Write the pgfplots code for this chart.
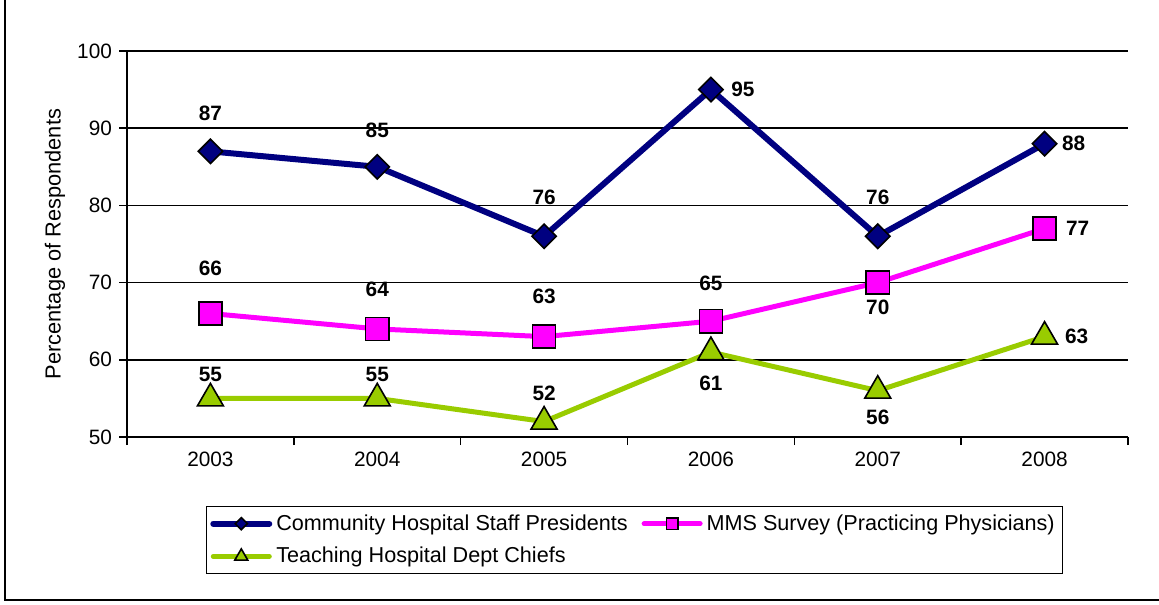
\documentclass[border=0pt]{standalone}
\usepackage{fontspec}
\setmainfont{Liberation Sans}
\usepackage{pgfplots}
\pgfplotsset{compat=1.18}
\usepackage{pgfplotstable}

\definecolor{navyc}{RGB}{0,0,128}
\definecolor{magc}{RGB}{255,0,255}
\definecolor{limec}{RGB}{153,204,0}

\pgfplotstableread{
x y dx dy
0 87 0 19.2
1 85 0 18.4
2 76 0 19.6
3 95 16 0
4 76 0 19.6
5 88 14.5 0
}\community
\pgfplotstableread{
x y dx dy
0 66 0 22.7
1 64 0 20
2 63 0 20.3
3 65 0 19.1
4 70 0 -12.2
5 77 16.5 0
}\mms
\pgfplotstableread{
x y dx dy
0 55 0 12.2
1 55 0 12.2
2 52 0 14.3
3 61 0 -15.4
4 56 0 -13.2
5 63 16 0
}\teaching

\pgfplotsset{/pgf/number format/assume math mode=true}

\begin{document}
\begin{tikzpicture}
\useasboundingbox (0,0) rectangle (579.5pt,302pt);
\draw[line width=1pt] (2.5pt,302pt) -- (2.5pt,2pt) -- (579.5pt,2pt);
\begin{axis}[
  at={(63.5pt,83.5pt)}, anchor=south west,
  scale only axis, width=500.5pt, height=193pt,
  xmin=-0.5, xmax=5.5, ymin=50, ymax=100,
  xtick={0,...,5}, xticklabels={2003,2004,2005,2006,2007,2008},
  minor xtick={-0.5,0.5,1.5,2.5,3.5,4.5,5.5},
  major x tick style={draw=none},
  ytick={50,60,70,80,90,100},
  ymajorgrids, grid style={black, line width=0.75pt},
  axis x line*=bottom, axis y line*=left,
  axis line style={black, line width=0.75pt, -},
  tick align=outside,
  tick style={black, line width=0.75pt},
  major tick length=4pt, minor tick length=4pt,
  ticklabel style={font=\fontsize{10.4}{12}\selectfont},
  ylabel={Percentage of Respondents},
  ylabel style={at={(axis description cs:-0.072,0.5)}, anchor=center, font=\fontsize{10.9}{13}\selectfont},
  legend columns=2,
  legend cell align=left,
  legend style={at={(axis description cs:0.507,-0.267)}, anchor=center, draw=black, line width=0.75pt,
    font=\fontsize{10.8}{13}\selectfont, inner sep=2pt,
    /tikz/every even column/.append style={column sep=5pt}, row sep=3pt},
  legend image code/.code={\draw[mark repeat=2,mark phase=2, line cap=round, every mark/.append style={scale=0.5}] plot coordinates {(0pt,0pt) (14pt,0pt) (28pt,0pt)};},
  nodes near coords,
  visualization depends on={\thisrow{dx} \as \dx},
  visualization depends on={\thisrow{dy} \as \dy},
  every node near coord/.append style={anchor=center, xshift=\dx pt, yshift=\dy pt, font=\fontsize{10.4}{12}\selectfont\bfseries, text=black},
]
\addplot[navyc, line width=3pt, mark=square*, mark size=4.3pt, mark options={fill=navyc, draw=black, line width=0.8pt, rotate=45}] table[x=x,y=y] {\community};
\addlegendentry{Community Hospital Staff Presidents}
\addplot[magc, line width=2.5pt, mark=square*, mark size=5.8pt, mark options={fill=magc, draw=black, line width=0.8pt}] table[x=x,y=y] {\mms};
\addlegendentry{MMS Survey (Practicing Physicians)}
\addplot[limec, line width=2.5pt, mark=triangle*, mark size=7.5pt, mark options={fill=limec, draw=black, line width=0.8pt}] table[x=x,y=y] {\teaching};
\addlegendentry{Teaching Hospital Dept Chiefs}
\end{axis}
\end{tikzpicture}
\end{document}
